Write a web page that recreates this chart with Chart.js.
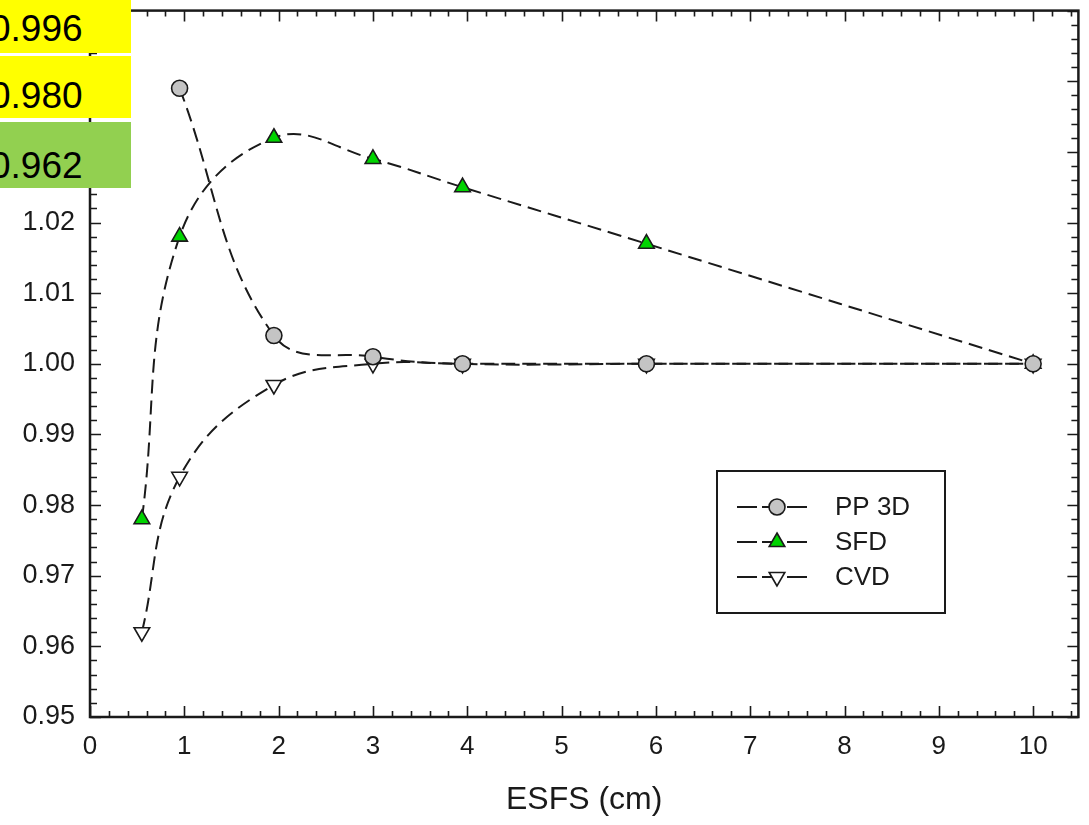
<!DOCTYPE html>
<html>
<head>
<meta charset="utf-8">
<script src="https://cdn.jsdelivr.net/npm/chart.js@4/dist/chart.umd.min.js"></script>
<style>
  html, body { margin: 0; padding: 0; background: #fff; }
  #wrap { position: relative; width: 1089px; height: 825px; overflow: hidden; }
  #chart { position: absolute; left: 0; top: 0; }
  .tag { position: absolute; left: 0; width: 131px; overflow: hidden;
         font-family: "Liberation Sans", Arial, sans-serif; font-size: 37px; color: #000; }
  .tag span { position: absolute; left: -10px; line-height: 37px; white-space: nowrap; }
</style>
</head>
<body>
<div id="wrap">
  <canvas id="chart" width="1089" height="825"></canvas>
  <div class="tag" style="top:0;height:53px;background:#ffff00"><span style="top:10px">0.996</span></div>
  <div class="tag" style="top:56px;height:62px;background:#ffff00"><span style="top:21px">0.980</span></div>
  <div class="tag" style="top:122px;height:66px;background:#92d050"><span style="top:25px">0.962</span></div>
</div>
<script>
// data
const ppX = [0.95, 1.95, 3.0, 3.95, 5.9, 10.0];
const ppY = [1.039, 1.004, 1.001, 1.000, 1.000, 1.000];
const sfdX = [0.55, 0.95, 1.95, 3.0, 3.95, 5.9, 10.0];
const sfdY = [0.978, 1.018, 1.032, 1.029, 1.025, 1.017, 1.000];
const cvdX = [0.55, 0.95, 1.95, 3.0, 3.95, 5.9, 10.0];
const cvdY = [0.962, 0.984, 0.997, 1.000, 1.000, 1.000, 1.000];

const xTicks = [0, 1, 2, 3, 4, 5, 6, 7, 8, 9, 10];
const yTicks = [0.95, 0.96, 0.97, 0.98, 0.99, 1.00, 1.01, 1.02, 1.03, 1.04, 1.05];
const X_MIN = 0, X_MAX = 10.48, X_MINOR = 0.2;
const Y_MIN = 0.95, Y_MAX = 1.05, Y_MINOR = 0.002;

const INK = '#1a1a1a';
const FONT = '"Liberation Sans", Arial, sans-serif';
const DASH = [14, 7];

function pts(xs, ys) {
  return xs.map((x, i) => ({ x: x, y: ys[i] }));
}

const seriesDefs = [
  { label: 'PP 3D', data: pts(ppX, ppY), style: 'circle', radius: 8, fill: '#c4c4c4', rot: 0 },
  { label: 'SFD', data: pts(sfdX, sfdY), style: 'triangle', radius: 9, fill: '#00d400', rot: 0 },
  { label: 'CVD', data: pts(cvdX, cvdY), style: 'triangle', radius: 9, fill: '#ffffff', rot: 180 }
];

// frame + inward ticks on all four sides
const framePlugin = {
  id: 'frame',
  afterDatasetsDraw(chart) {
    const { ctx, chartArea: a, scales: { x, y } } = chart;
    ctx.save();
    ctx.strokeStyle = INK;
    ctx.lineWidth = 1.6;
    ctx.beginPath();
    const nx = Math.round((X_MAX - X_MIN) / X_MINOR);
    for (let i = 0; i <= nx; i++) {
      const v = X_MIN + i * X_MINOR;
      const major = Math.abs(v - Math.round(v)) < 1e-6;
      const len = major ? 11 : 6;
      const px = Math.round(x.getPixelForValue(v)) + 0.5;
      ctx.moveTo(px, a.bottom); ctx.lineTo(px, a.bottom - len);
      ctx.moveTo(px, a.top); ctx.lineTo(px, a.top + len);
    }
    const ny = Math.round((Y_MAX - Y_MIN) / Y_MINOR);
    for (let i = 0; i <= ny; i++) {
      const major = i % 5 === 0;
      const len = major ? 11 : 7;
      const py = Math.round(y.getPixelForValue(Y_MIN + i * Y_MINOR)) + 0.5;
      ctx.moveTo(a.left, py); ctx.lineTo(a.left + len, py);
      ctx.moveTo(a.right, py); ctx.lineTo(a.right - len, py);
    }
    ctx.stroke();
    ctx.lineWidth = 2.5;
    ctx.strokeRect(a.left, a.top, a.right - a.left, a.bottom - a.top);
    ctx.restore();
  }
};

// boxed legend like the original
const legendPlugin = {
  id: 'boxLegend',
  afterDraw(chart) {
    const ctx = chart.ctx;
    ctx.save();
    ctx.strokeStyle = INK;
    ctx.lineWidth = 2;
    ctx.strokeRect(717, 471, 228, 142);
    ctx.font = '26px ' + FONT;
    ctx.textBaseline = 'middle';
    seriesDefs.forEach((s, i) => {
      const yy = 507 + i * 35;
      ctx.save();
      ctx.lineWidth = 2;
      ctx.setLineDash([20, 5]);
      ctx.beginPath();
      ctx.moveTo(737, yy); ctx.lineTo(808, yy);
      ctx.stroke();
      ctx.restore();
      ctx.fillStyle = s.fill;
      ctx.lineWidth = 1.6;
      Chart.helpers.drawPoint(ctx, { pointStyle: s.style, radius: s.radius, rotation: s.rot, borderWidth: 1.6 }, 777, yy);
      ctx.fillStyle = INK;
      ctx.fillText(s.label, 835, yy + 1);
    });
    ctx.restore();
  }
};

new Chart(document.getElementById('chart'), {
  type: 'line',
  data: {
    datasets: seriesDefs.map(s => ({
      label: s.label,
      data: s.data,
      borderColor: INK,
      borderWidth: 2,
      borderDash: DASH,
      tension: 0.4,
      fill: false,
      pointStyle: s.style,
      pointRadius: s.radius,
      pointRotation: s.rot,
      pointBackgroundColor: s.fill,
      pointBorderColor: INK,
      pointBorderWidth: 1.6
    }))
  },
  options: {
    responsive: false,
    animation: false,
    events: [],
    layout: { padding: { left: 0, top: 7, right: 10, bottom: 0 } },
    plugins: { legend: { display: false }, tooltip: { enabled: false } },
    scales: {
      x: {
        type: 'linear',
        min: X_MIN, max: X_MAX,
        afterBuildTicks: sc => { sc.ticks = xTicks.map(v => ({ value: v })); },
        afterFit: sc => { sc.height = 108; sc.paddingLeft = 0; sc.paddingRight = 0; },
        grid: { display: false, drawTicks: false },
        border: { display: false },
        ticks: { color: INK, font: { family: FONT, size: 26 }, padding: 14, maxRotation: 0,
                 callback: v => String(v) },
        title: { display: true, text: 'ESFS (cm)', color: INK,
                 font: { family: FONT, size: 32 }, padding: { top: 0, bottom: 6 } }
      },
      y: {
        type: 'linear',
        min: Y_MIN, max: Y_MAX,
        afterBuildTicks: sc => { sc.ticks = yTicks.map(v => ({ value: v })); },
        afterFit: sc => { sc.width = 90; sc.paddingTop = 0; sc.paddingBottom = 0; },
        grid: { display: false, drawTicks: false },
        border: { display: false },
        ticks: { color: INK, font: { family: FONT, size: 27 }, padding: 15,
                 callback: v => Number(v).toFixed(2) }
      }
    }
  },
  plugins: [framePlugin, legendPlugin]
});
</script>
</body>
</html>
